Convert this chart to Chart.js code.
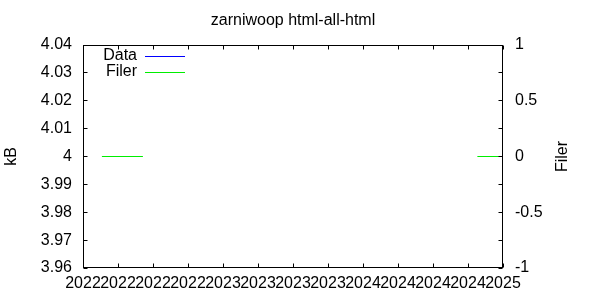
<!DOCTYPE html>
<html>
<head>
<meta charset="utf-8">
<title>zarniwoop html-all-html</title>
<script src="https://cdn.jsdelivr.net/npm/chart.js@4/dist/chart.umd.min.js"></script>
<style>
    html, body { margin: 0; padding: 0; background: #fff; }
    #wrap { width: 600px; height: 300px; }
</style>
</head>
<body>
<div id="wrap"><canvas id="chart" width="600" height="300"></canvas></div>
<script>
// Dates are decimal years (2022.25 = start of April 2022)
const dataDates = [];
const dataKB = [];
const filerDates = [2022.135, 2022.428, 2022.43, 2024.817, 2025.0];
const filerValues = [0, 0, null, 0, 0];

const xTicks = [2022, 2022.25, 2022.5, 2022.75, 2023, 2023.25, 2023.5, 2023.75,
                2024, 2024.25, 2024.5, 2024.75, 2025];
const yTicks = [3.96, 3.97, 3.98, 3.99, 4.0, 4.01, 4.02, 4.03, 4.04];
const y2Ticks = [-1, -0.5, 0, 0.5, 1];
const y2MinorTicks = [-1, -0.75, -0.5, -0.25, 0, 0.25, 0.5, 0.75, 1];

const seriesNames = ['Data', 'Filer'];
const seriesColors = ['#0000ff', '#00ee00'];

const FONT = 'Liberation Sans, Arial, sans-serif';

function toPoints(xs, ys) {
    return xs.map((x, i) => ({ x: x, y: ys[i] }));
}

// gnuplot-like frame: border, inward ticks, rotated axis titles, legend
const gnuplotFrame = {
    id: 'gnuplotFrame',
    afterDraw(chart) {
        const { ctx, chartArea: a, scales } = chart;
        const L = Math.round(a.left) + 0.5, R = Math.round(a.right) - 0.5;
        const T = Math.round(a.top) + 0.5, B = Math.round(a.bottom) - 0.5;
        const len = 4;
        ctx.save();
        ctx.strokeStyle = '#000';
        ctx.lineWidth = 1;
        ctx.beginPath();
        xTicks.forEach(v => {
            const px = Math.round(scales.x.getPixelForValue(v)) + 0.5;
            ctx.moveTo(px, B); ctx.lineTo(px, B - len);
            ctx.moveTo(px, T); ctx.lineTo(px, T + len);
        });
        yTicks.forEach(v => {
            const py = Math.floor(scales.y.getPixelForValue(v)) + 0.5;
            ctx.moveTo(L, py); ctx.lineTo(L + len, py);
        });
        y2MinorTicks.forEach(v => {
            const py = Math.floor(scales.y2.getPixelForValue(v)) + 0.5;
            ctx.moveTo(R, py); ctx.lineTo(R - len, py);
        });
        ctx.stroke();
        ctx.strokeRect(L, T, R - L, B - T);

        // axis titles
        ctx.fillStyle = '#000';
        ctx.font = '16px ' + FONT;
        ctx.textAlign = 'center';
        ctx.textBaseline = 'middle';
        const midY = (a.top + a.bottom) / 2;
        [['kB', 12], ['Filer', 563]].forEach(([txt, x]) => {
            ctx.save();
            ctx.translate(x, midY);
            ctx.rotate(-Math.PI / 2);
            ctx.fillText(txt, 0, 0);
            ctx.restore();
        });

        // legend, text right-aligned with the sample line after it
        ctx.textAlign = 'right';
        seriesNames.forEach((name, i) => {
            const y = Math.round(a.top) + 11 + i * 16;
            ctx.fillStyle = '#000';
            ctx.fillText(name, 137, y);
            ctx.strokeStyle = seriesColors[i];
            ctx.lineWidth = 1;
            ctx.beginPath();
            ctx.moveTo(145, y + 0.5);
            ctx.lineTo(185, y + 0.5);
            ctx.stroke();
        });
        ctx.restore();
    }
};

const noGrid = { display: false, drawTicks: false };

new Chart(document.getElementById('chart'), {
    type: 'line',
    data: {
        datasets: [
            {
                label: seriesNames[0],
                data: toPoints(dataDates, dataKB),
                yAxisID: 'y',
                borderColor: seriesColors[0],
                borderWidth: 1,
                pointRadius: 0,
                tension: 0
            },
            {
                label: seriesNames[1],
                data: toPoints(filerDates, filerValues),
                yAxisID: 'y2',
                borderColor: seriesColors[1],
                borderWidth: 1,
                pointRadius: 0,
                spanGaps: false,
                tension: 0
            }
        ]
    },
    options: {
        responsive: false,
        animation: false,
        events: [],
        layout: { padding: 0 },
        plugins: {
            legend: { display: false },
            tooltip: { enabled: false },
            title: {
                display: true,
                fullSize: false,
                text: 'zarniwoop html-all-html',
                color: '#000',
                font: { family: FONT, size: 16, weight: 'normal' },
                padding: { top: 11, bottom: 14.8 }
            }
        },
        scales: {
            x: {
                type: 'linear',
                position: 'bottom',
                min: 2022,
                max: 2025,
                afterBuildTicks: s => { s.ticks = xTicks.map(v => ({ value: v })); },
                afterFit: s => { s.height = 32; },
                grid: noGrid,
                border: { display: false },
                ticks: {
                    autoSkip: false,
                    maxRotation: 0,
                    padding: 6,
                    color: '#000',
                    font: { family: FONT, size: 16 },
                    callback: v => String(Math.floor(v))
                }
            },
            y: {
                type: 'linear',
                position: 'left',
                min: 3.96,
                max: 4.04,
                afterBuildTicks: s => { s.ticks = yTicks.map(v => ({ value: v })); },
                afterFit: s => { s.width = 83; },
                grid: noGrid,
                border: { display: false },
                ticks: {
                    padding: 11,
                    color: '#000',
                    font: { family: FONT, size: 16 },
                    callback: v => String(+v.toFixed(2))
                }
            },
            y2: {
                type: 'linear',
                position: 'right',
                min: -1,
                max: 1,
                afterBuildTicks: s => { s.ticks = y2Ticks.map(v => ({ value: v })); },
                afterFit: s => { s.width = 97; },
                grid: noGrid,
                border: { display: false },
                ticks: {
                    padding: 12,
                    color: '#000',
                    font: { family: FONT, size: 16 },
                    callback: v => String(v)
                }
            }
        }
    },
    plugins: [gnuplotFrame]
});
</script>
</body>
</html>
